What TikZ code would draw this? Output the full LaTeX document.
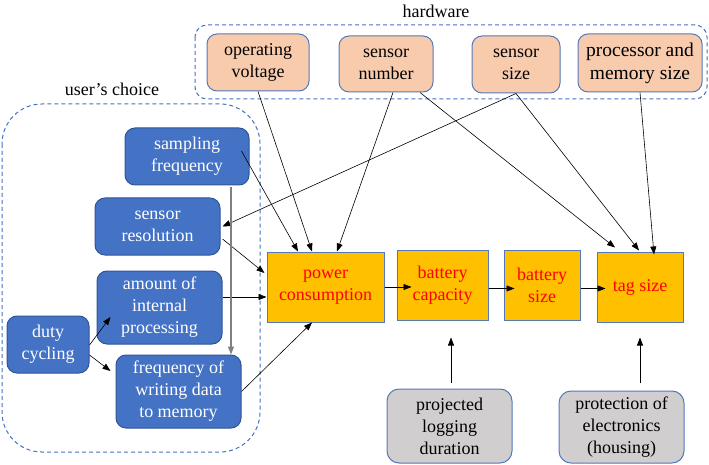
\documentclass[tikz,border=0pt]{standalone}
\usepackage{fontspec}
\setmainfont{Liberation Serif}
\newfontfamily\diagfont{Liberation Serif}
\usetikzlibrary{calc, arrows.meta}

\definecolor{hwfill}{RGB}{248,203,173}
\definecolor{boxline}{RGB}{84,120,186}
\definecolor{userfill}{RGB}{68,114,196}
\definecolor{userline}{RGB}{47,85,151}
\definecolor{resfill}{RGB}{255,192,0}
\definecolor{extfill}{RGB}{208,206,206}
\definecolor{groupline}{RGB}{68,114,196}

\begin{document}
\begin{tikzpicture}[x=1pt, y=-1pt,
		every node/.style={font=\diagfont\fontsize{18}{22}\selectfont},
		box/.style={line width=1pt, align=center, inner sep=0pt},
		hwbox/.style={box, draw=boxline, fill=hwfill, rounded corners=10pt},
		userbox/.style={box, draw=userline, fill=userfill, text=white, rounded corners=10pt},
		resbox/.style={box, draw=boxline, fill=resfill, text=red},
		extbox/.style={box, draw=boxline, fill=extfill, rounded corners=12pt},
		group/.style={draw=groupline, line width=1pt, dash pattern=on 4pt off 3pt},
		link/.style={-{Triangle[length=8pt,width=6pt]}, line width=0.6pt}
	]
			\useasboundingbox (0,0) rectangle (709,465);

			\draw [group, rounded corners=12pt] (195,25) rectangle (707,99);
			\draw [group, rounded corners=40pt] (2,104) rectangle (260,452);

			\node (hwlabel) at (436,11) {hardware};
			\node (userlabel) at (112,89) {user’s choice};

			\node [hwbox, minimum width=102pt, minimum height=57pt] (ov) at (258,62.5) {operating\\voltage};
			\node [hwbox, minimum width=94pt, minimum height=56pt] (sn) at (386,64) {sensor\\number};
			\node [hwbox, minimum width=88pt, minimum height=57pt] (ss) at (516,64.5) {sensor\\size};
			\node [hwbox, minimum width=124pt, minimum height=58pt, font=\diagfont\fontsize{19.5}{23}\selectfont] (pm) at (640,63) {processor and\\memory size};

			\node [userbox, minimum width=124pt, minimum height=57pt] (sf) at (187,156.5) {sampling\\frequency};
			\node [userbox, minimum width=125pt, minimum height=57pt] (sr) at (157.5,226.5) {sensor\\resolution};
			\node [userbox, minimum width=125pt, minimum height=73pt] (ai) at (159.5,307.5) {amount of\\internal\\processing};
			\node [userbox, minimum width=82pt, minimum height=57pt] (dc) at (48,344.5) {duty\\cycling};
			\node [userbox, minimum width=125pt, minimum height=73pt] (fw) at (178.5,391.5) {frequency of\\writing data\\to memory};

			\node [resbox, minimum width=117pt, minimum height=70pt] (pc) at (325.5,287) {power\\consumption};
			\node [resbox, minimum width=91pt, minimum height=70pt] (bc) at (442.5,285) {battery\\capacity};
			\node [resbox, minimum width=76pt, minimum height=70pt] (bs) at (542,285) {battery\\size};
			\node [resbox, minimum width=86pt, minimum height=70pt] (ts) at (640,287) {tag size};

			\node [extbox, minimum width=125pt, minimum height=74pt] (pl) at (449.5,426) {projected\\logging\\duration};
			\node [extbox, minimum width=125pt, minimum height=72pt] (pe) at (621.5,427) {protection of\\electronics\\(housing)};

			\begin{scope}[link]
				\draw ($ (sf.east) + (-8,-5.5) $) -- ($ (pc.north) + (-27.5,0) $);
				\draw (ov.south) -- ($ (pc.north) + (-13.5,0) $);
				\draw ($ (sn.south) + (7,0) $) -- ($ (pc.north) + (11.5,0) $);
				\draw ($ (sn.south) + (34,0) $) -- ($ (ts.north) + (-25,-4) $);
				\draw (ss.south) -- ($ (sr.east) + (2,0) $);
				\draw (ss.south) -- ($ (ts.north) + (-1,-1) $);
				\draw (pm.south) -- ($ (ts.north) + (14,3) $);

				\draw ($ (sr.east) + (2,12.5) $) -- ($ (pc.west) + (-2,-14) $);
				\draw ($ (ai.east) + (0,-10.5) $) -- ($ (pc.west) + (0,10) $);
				\draw (fw.east) -- ($ (pc.south) + (-13.5,0) $);
				\draw ($ (dc.east) + (0,0.5) $) -- ($ (ai.west) + (14,9.5) $);
				\draw ($ (dc.east) + (0,10.5) $) -- ($ (fw.west) + (-5,-20.5) $);

				\draw ($ (pc.east) + (0,0) $) -- ($ (bc.west) + (15,2) $);
				\draw ($ (bc.east) + (0,3.5) $) -- ($ (bs.west) + (11,3.5) $);
				\draw ($ (bs.east) + (0,3.5) $) -- ($ (ts.west) + (9,1.5) $);

				\draw ($ (pl.north) + (1.5,-6) $) -- ($ (bc.south) + (8.5,17) $);
				\draw ($ (pe.north) + (18.5,-8) $) -- ($ (ts.south) + (0,15) $);
			\end{scope}

			\draw [link, draw=gray, line width=1.2pt] ($ (sf.south) + (44,2) $) -- ($ (fw.north) + (52.5,0) $);
		\end{tikzpicture}
\end{document}
